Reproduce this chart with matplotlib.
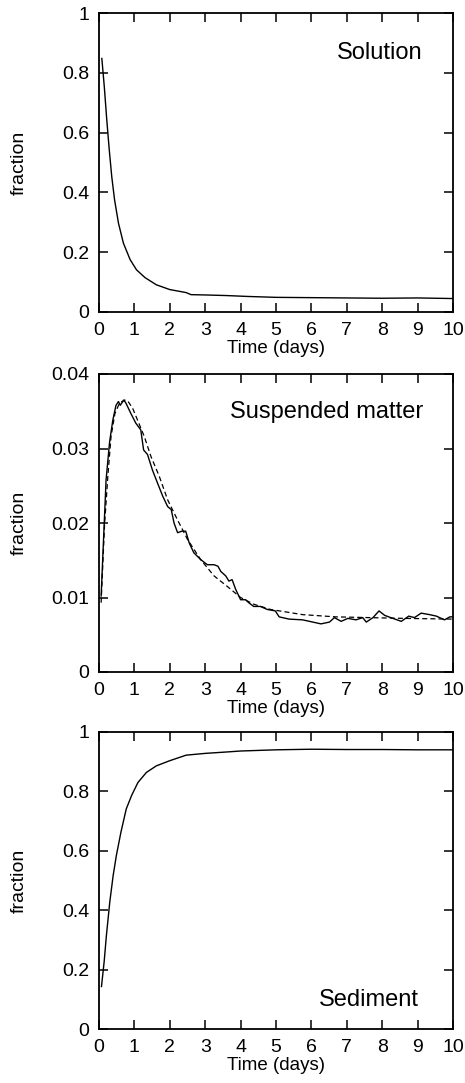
import matplotlib.pyplot as plt
import numpy as np

plt.rcParams['font.family'] = ['Liberation Sans', 'DejaVu Sans']

# Solution fraction vs time (days)
t_sol = [0.08, 0.15, 0.22, 0.29, 0.36, 0.44, 0.55, 0.69, 0.88, 1.06, 1.30, 1.62,
         2.0, 2.46, 2.6, 3.0, 3.6, 4.2, 5.0, 6.0, 7.0, 8.0, 9.0, 10.0]
f_sol = [0.848, 0.753, 0.642, 0.542, 0.453, 0.375, 0.297, 0.230, 0.175, 0.141, 0.115, 0.091,
         0.075, 0.065, 0.058, 0.057, 0.055, 0.052, 0.049, 0.048, 0.047, 0.046, 0.047, 0.045]

# Suspended matter, measured (solid)
t_sus = [0.06, 0.2, 0.30, 0.39, 0.48, 0.55, 0.60, 0.70, 0.76, 0.90, 1.04, 1.18, 1.26,
         1.37, 1.51, 1.65, 1.80, 1.94, 2.04, 2.12, 2.22, 2.34, 2.45, 2.55, 2.68, 2.87,
         3.06, 3.25, 3.36, 3.44, 3.58, 3.67, 3.76, 3.86, 4.0, 4.14, 4.23, 4.37, 4.56,
         4.75, 4.98, 5.09, 5.37, 5.75, 6.04, 6.27, 6.51, 6.65, 6.84, 7.03, 7.26, 7.45,
         7.55, 7.74, 7.91, 8.07, 8.30, 8.54, 8.75, 8.91, 9.10, 9.34, 9.53, 9.76, 9.91, 10.0]
f_sus = [0.0102, 0.0258, 0.0309, 0.0338, 0.0358, 0.0363, 0.0358, 0.0365, 0.0361, 0.0347,
         0.0334, 0.0325, 0.0298, 0.0292, 0.0271, 0.0254, 0.0236, 0.0222, 0.0218, 0.0200,
         0.0187, 0.0189, 0.0189, 0.0173, 0.0160, 0.0151, 0.0144, 0.0144, 0.0142, 0.0135,
         0.0129, 0.0122, 0.0124, 0.0111, 0.0097, 0.0097, 0.0093, 0.0088, 0.0088, 0.0084,
         0.0082, 0.0074, 0.0071, 0.0070, 0.0067, 0.00646, 0.0067, 0.0073, 0.0068, 0.0072,
         0.0070, 0.0073, 0.0067, 0.0073, 0.0082, 0.0076, 0.0072, 0.0068, 0.0075, 0.0073,
         0.0079, 0.0077, 0.0075, 0.0070, 0.0074, 0.0074]

# Suspended matter, model (dashed)
t_fit = [0.06, 0.155, 0.25, 0.34, 0.45, 0.58, 0.72, 0.81, 0.95, 1.09, 1.28, 1.47, 1.70,
         1.94, 2.22, 2.5, 2.87, 3.25, 3.62, 4.0, 4.37, 4.84, 5.75, 6.69, 7.64, 8.58, 10.0]
f_fit = [0.0093, 0.0196, 0.0263, 0.0316, 0.0347, 0.0361, 0.0365, 0.0364, 0.0354, 0.0338,
         0.0316, 0.0289, 0.0263, 0.0231, 0.0204, 0.0178, 0.0151, 0.0129, 0.0115, 0.0100,
         0.0091, 0.0084, 0.0077, 0.0074, 0.0073, 0.0072, 0.0071]

# Sediment
t_sed = [0.07, 0.146, 0.21, 0.305, 0.40, 0.49, 0.62, 0.77, 0.92, 1.10, 1.34, 1.62, 1.99,
         2.46, 3.0, 3.64, 4.0, 5.0, 6.0, 7.0, 8.0, 9.0, 10.0]
f_sed = [0.143, 0.227, 0.316, 0.428, 0.517, 0.584, 0.663, 0.741, 0.786, 0.830, 0.864, 0.886,
         0.903, 0.922, 0.928, 0.933, 0.936, 0.940, 0.942, 0.941, 0.941, 0.940, 0.940]

W, H = 465, 1083
fig = plt.figure(figsize=(W / 100, H / 100), dpi=100)

# axes boxes in pixels: (top, bottom)
boxes = [(13, 312), (374, 672), (732, 1029)]
left, right = 99, 453

axes = []
for top, bot in boxes:
    ax = fig.add_axes([left / W, 1 - bot / H, (right - left) / W, (bot - top) / H])
    axes.append(ax)

for ax in axes:
    ax.set_xlim(0, 10)
    ax.set_xticks(range(11))
    ax.tick_params(direction='in', top=True, right=True, length=6.5, width=1.1,
                   labelsize=14, pad=7)
    for s in ax.spines.values():
        s.set_linewidth(1.3)
    ax.set_xlabel('Time (days)', fontsize=13.5)
    ax.xaxis.set_label_coords(0.5, -0.095)
    ax.set_ylabel('fraction', fontsize=14)
    ax.yaxis.set_label_coords(-0.2, 0.5)

ax1, ax2, ax3 = axes

ax1.plot(t_sol, f_sol, 'k-', lw=1.0)
ax1.set_ylim(0, 1)
ax1.set_yticks([0, 0.2, 0.4, 0.6, 0.8, 1])
ax1.set_yticklabels(['0', '0.2', '0.4', '0.6', '0.8', '1'])
ax1.text(0.915, 0.865, 'Solution', transform=ax1.transAxes, ha='right', va='center',
         fontsize=17)

ax2.plot(t_sus, f_sus, 'k-', lw=1.0)
ax2.plot(t_fit, f_fit, 'k--', lw=0.9, dashes=(4, 2.5))
ax2.set_ylim(0, 0.04)
ax2.set_yticks([0, 0.01, 0.02, 0.03, 0.04])
ax2.set_yticklabels(['0', '0.01', '0.02', '0.03', '0.04'])
ax2.text(0.915, 0.872, 'Suspended matter', transform=ax2.transAxes, ha='right',
         va='center', fontsize=17)

ax3.plot(t_sed, f_sed, 'k-', lw=1.0)
ax3.set_ylim(0, 1)
ax3.set_yticks([0, 0.2, 0.4, 0.6, 0.8, 1])
ax3.set_yticklabels(['0', '0.2', '0.4', '0.6', '0.8', '1'])
ax3.text(0.905, 0.098, 'Sediment', transform=ax3.transAxes, ha='right', va='center',
         fontsize=17)

fig.savefig('out.png', dpi=100)
